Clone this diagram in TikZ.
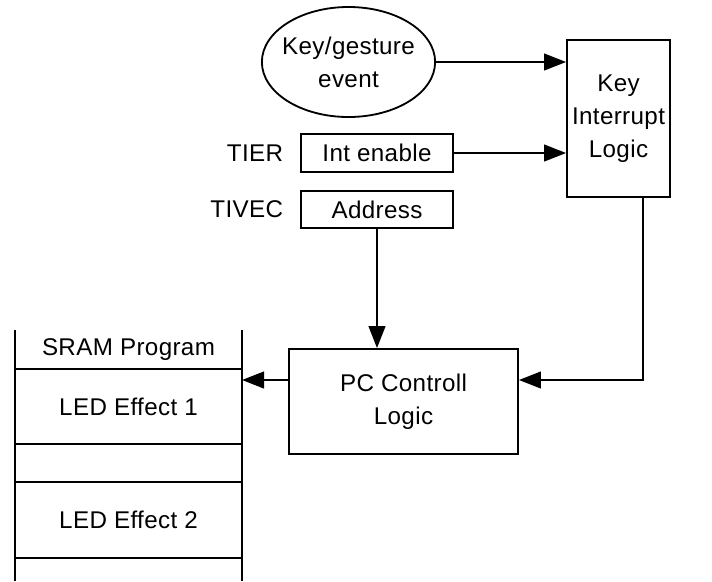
\documentclass[tikz,border=0pt]{standalone}
\usepackage{fontspec}
\setmainfont[LetterSpace=1.5]{Liberation Sans}
\usetikzlibrary{positioning, arrows.meta, shapes.geometric}

\tikzset{
  blk/.style={draw, align=center, inner sep=0pt},
  reg/.style={blk, minimum width=3.8cm, minimum height=0.94cm},
  cell/.style={draw, minimum width=5.675cm, inner sep=0pt, outer sep=0pt},
  lbl/.style={inner sep=0pt}
}

\begin{document}
\begin{tikzpicture}[x=0.025cm, y=-0.025cm, line width=1.3pt, node distance=0.4cm,
    >={Triangle[length=0.55cm,width=0.42cm]}, font=\fontsize{17.2}{23.5}\selectfont]
  \useasboundingbox (0,0) rectangle (712,581);

  % inputs
  \node[ellipse, blk, inner xsep=-0.3cm, minimum width=4.33cm, minimum height=2.75cm] (ev) at (348.5,62) {Key/gesture\\event};
  \node[reg] (ien) at (377,153) {Int enable};
  \node[reg] (adr) at (377,209.5) {Address};
  \node[lbl, left=of ien] (tier) {TIER};
  \node[lbl, left=of adr] (tivec) {TIVEC};

  % logic blocks
  \node[blk, minimum width=2.575cm, minimum height=3.925cm] (kil) at (618.5,118.5) {Key\\Interrupt\\Logic};
  \node[blk, minimum width=5.725cm, minimum height=2.625cm] (pcl) at (403.5,401.5) {PC Controll\\Logic};

  % program memory
  \node[cell, draw=none, minimum height=0.975cm] (hdr) at (128.5,349.5) {SRAM Program};
  \node[cell, minimum height=1.875cm] (led1) at (128.5,406.5) {LED Effect 1};
  \node[cell, minimum height=0.95cm] (gap) at (128.5,463) {};
  \node[cell, minimum height=1.9cm] (led2) at (128.5,520) {LED Effect 2};
  \draw (hdr.north west) -- (hdr.north west |- 0,581)
        (hdr.north east) -- (hdr.north east |- 0,581);

  \coordinate (tap) at (643,380);

  \draw[->] (ev) -- (ev -| kil.west);
  \draw[->] (ien) -- (ien -| kil.west);
  \draw[->] (adr.south) -- (adr.south |- pcl.north);
  \draw[->] (kil.south -| tap) -- (tap) -- (tap -| pcl.east);
  \draw[->] (pcl.west |- tap) -- (tap -| led1.east);
\end{tikzpicture}
\end{document}
